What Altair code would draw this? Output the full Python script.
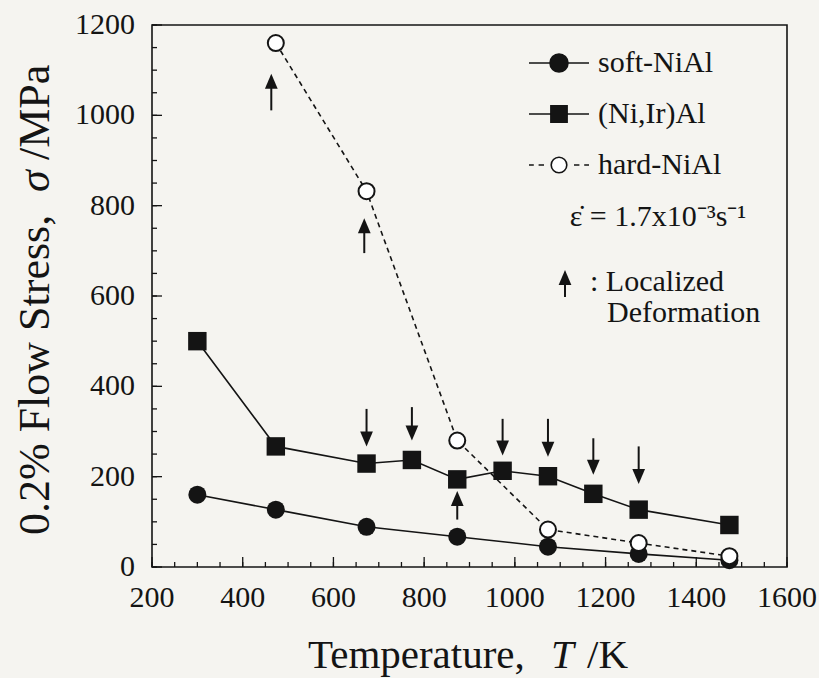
import altair as alt
import pandas as pd

# ---- data ----
series = ["soft-NiAl", "(Ni,Ir)Al", "hard-NiAl"]

temps_soft = [300, 473, 673, 873, 1073, 1273, 1473]
stress_soft = [160, 127, 89, 67, 45, 29, 15]

temps_nirAl = [300, 473, 673, 773, 873, 973, 1073, 1173, 1273, 1473]
stress_nirAl = [500, 267, 229, 237, 194, 213, 201, 162, 127, 93]

temps_hard = [473, 673, 873, 1073, 1273, 1473]
stress_hard = [1160, 832, 280, 83, 53, 24]

# localized deformation arrows (x, tail, tip)
down_x = [673, 773, 973, 1073, 1173, 1273]
down_tail = [350, 354, 328, 328, 285, 267]
down_tip = [267, 280, 247, 244, 204, 184]

up_x = [463, 668, 873]
up_tail = [1011, 695, 105]
up_tip = [1092, 772, 168]

x_major = [200, 400, 600, 800, 1000, 1200, 1400, 1600]
x_minor = list(range(200, 1601, 50))
y_major = [0, 200, 400, 600, 800, 1000, 1200]
y_minor = list(range(0, 1201, 50))

x_title = ["Temperature,", "T", "/K"]
y_title = ["0.2% Flow Stress,", "\u03c3", "/MPa"]
rate_text = ["\u03b5\u0307 = 1.7x10\u207b\u00b3s\u207b\u00b9"]
note_line1 = [": Localized"]
note_line2 = ["Deformation"]

W, H = 635, 542
FONT = "Liberation Serif"
INK = "#141414"

xs = alt.Scale(domain=[200, 1600], nice=False, zero=False)
ys = alt.Scale(domain=[0, 1200], nice=False, zero=True)


def X(field):
    return alt.X(field, scale=xs, axis=None)


def Y(field):
    return alt.Y(field, scale=ys, axis=None)


df_soft = pd.DataFrame({"T": temps_soft, "s": stress_soft})
df_nir = pd.DataFrame({"T": temps_nirAl, "s": stress_nirAl})
df_hard = pd.DataFrame({"T": temps_hard, "s": stress_hard})

line_soft = alt.Chart(df_soft).mark_line(color=INK, strokeWidth=1.6).encode(x=X("T:Q"), y=Y("s:Q"))
line_nir = alt.Chart(df_nir).mark_line(color=INK, strokeWidth=1.6).encode(x=X("T:Q"), y=Y("s:Q"))
line_hard = alt.Chart(df_hard).mark_line(color=INK, strokeWidth=1.6, strokeDash=[5, 4]).encode(
    x=X("T:Q"), y=Y("s:Q"))

pt_soft = alt.Chart(df_soft).mark_point(shape="circle", filled=True, color=INK, size=324,
                                        opacity=1).encode(x=X("T:Q"), y=Y("s:Q"))
pt_nir = alt.Chart(df_nir).mark_point(shape="square", filled=True, color=INK, size=340,
                                      opacity=1).encode(x=X("T:Q"), y=Y("s:Q"))
pt_hard = alt.Chart(df_hard).mark_point(shape="circle", fill="white", stroke=INK, strokeWidth=2,
                                        size=256, opacity=1, filled=False, fillOpacity=1).encode(
    x=X("T:Q"), y=Y("s:Q"))

# arrows
df_down = pd.DataFrame({"x": down_x, "tail": down_tail, "tip": down_tip})
df_up = pd.DataFrame({"x": up_x, "tail": up_tail, "tip": up_tip})

down_path = "M0,0L-0.85,-2L0.85,-2Z"
up_path = "M0,0L-0.85,2L0.85,2Z"
HEAD = 225

down_rule = alt.Chart(df_down).transform_calculate(end="datum.tip + 15").mark_rule(
    color=INK, strokeWidth=2).encode(x=X("x:Q"), y=Y("tail:Q"), y2="end:Q")
down_head = alt.Chart(df_down).mark_point(shape=down_path, filled=True, color=INK, size=HEAD,
                                          opacity=1).encode(x=X("x:Q"), y=Y("tip:Q"))
up_rule = alt.Chart(df_up).transform_calculate(end="datum.tip - 15").mark_rule(
    color=INK, strokeWidth=2).encode(x=X("x:Q"), y=Y("tail:Q"), y2="end:Q")
up_head = alt.Chart(df_up).mark_point(shape=up_path, filled=True, color=INK, size=HEAD,
                                      opacity=1).encode(x=X("x:Q"), y=Y("tip:Q"))


# inward ticks
def xticks(vals, ln):
    return alt.Chart(pd.DataFrame({"v": vals})).mark_rule(color=INK, strokeWidth=1.3).encode(
        x=X("v:Q"), y=alt.value(H), y2=alt.value(H - ln))


def yticks(vals, ln):
    return alt.Chart(pd.DataFrame({"v": vals})).mark_rule(color=INK, strokeWidth=1.3).encode(
        y=Y("v:Q"), x=alt.value(0), x2=alt.value(ln))


# tick labels through the scales
x_labels = alt.Chart(pd.DataFrame({"v": x_major})).mark_text(
    font=FONT, fontSize=30, color=INK, align="center", baseline="alphabetic").encode(
    x=X("v:Q"), y=alt.value(H + 40), text=alt.Text("v:Q", format="d"))
y_labels = alt.Chart(pd.DataFrame({"v": y_major})).mark_text(
    font=FONT, fontSize=30, color=INK, align="right", baseline="middle").encode(
    y=Y("v:Q"), x=alt.value(-17), text=alt.Text("v:Q", format="d"))


# axis titles (pieces so that the symbols can be italic)
def title_piece(txt, xv, yv, italic=False, angle=0, size=41):
    kw = dict(font=FONT, fontSize=size, color=INK, align="left", baseline="alphabetic")
    if italic:
        kw["fontStyle"] = "italic"
    if angle:
        kw["angle"] = angle
    return alt.Chart(pd.DataFrame({"t": [txt]})).mark_text(**kw).encode(
        text="t:N", x=alt.value(xv), y=alt.value(yv))


xt = [
    title_piece(x_title[0], 156, H + 101),
    title_piece(x_title[1], 399, H + 101, italic=True),
    title_piece(x_title[2], 435, H + 101),
]
yt = [
    title_piece(y_title[0], -103, 510, angle=270, size=44),
    title_piece(y_title[1], -103, 167, italic=True, angle=270, size=44),
    title_piece(y_title[2], -103, 135, angle=270, size=44),
]

# legend (custom symbols: line + marker)
circ = "M-0.3,0A0.3,0.3 0 1,0 0.3,0A0.3,0.3 0 1,0 -0.3,0Z"
circ_o = "M-0.26,0A0.26,0.26 0 1,0 0.26,0A0.26,0.26 0 1,0 -0.26,0Z"
sym_soft = "M-1,0H-0.3M0.3,0H1" + circ
sym_nir = "M-1,0H-0.27M0.27,0H1M-0.27,-0.27H0.27V0.27H-0.27Z"
sym_hard = "M-1,0H-0.84M-0.68,0H-0.5M0.5,0H0.68M0.84,0H1" + circ_o

leg_df = pd.DataFrame({"series": series})
legend = alt.Legend(title=None, orient="none", legendX=376, legendY=7, symbolSize=3600,
                    symbolStrokeWidth=1.6, symbolStrokeColor=INK, labelFont=FONT,
                    labelFontSize=30, labelColor=INK, rowPadding=5, labelOffset=8,
                    padding=0, symbolOpacity=1)
legend_layer = alt.Chart(leg_df).mark_point(clip=True, stroke=INK, strokeWidth=1.6, opacity=1).encode(
    x=alt.value(-200), y=alt.value(-200),
    shape=alt.Shape("series:N", scale=alt.Scale(domain=series, range=[sym_soft, sym_nir, sym_hard]),
                    legend=legend),
    fill=alt.Fill("series:N", scale=alt.Scale(domain=series, range=[INK, INK, "white"]),
                  legend=legend),
    stroke=alt.Stroke("series:N", scale=alt.Scale(domain=series, range=[INK, INK, INK]),
                      legend=legend),
)

rate = alt.Chart(pd.DataFrame({"t": rate_text})).mark_text(
    font=FONT, fontSize=30, color=INK, align="center", baseline="middle").encode(
    text="t:N", x=alt.value(506), y=alt.value(192))

note1 = alt.Chart(pd.DataFrame({"t": note_line1})).mark_text(
    font=FONT, fontSize=30, color=INK, align="left", baseline="middle").encode(
    text="t:N", x=alt.value(438), y=alt.value(257))
note2 = alt.Chart(pd.DataFrame({"t": note_line2})).mark_text(
    font=FONT, fontSize=30, color=INK, align="left", baseline="middle").encode(
    text="t:N", x=alt.value(455), y=alt.value(288))

key_rule = alt.Chart(pd.DataFrame({"a": [0]})).mark_rule(color=INK, strokeWidth=2).encode(
    x=alt.value(413), y=alt.value(272), y2=alt.value(252))
key_head = alt.Chart(pd.DataFrame({"a": [0]})).mark_point(shape=up_path, filled=True, color=INK,
                                                          size=HEAD, opacity=1).encode(
    x=alt.value(413), y=alt.value(245))

chart = alt.layer(
    line_soft, line_nir, line_hard,
    xticks(x_minor, 5), xticks(x_major, 10), yticks(y_minor, 5), yticks(y_major, 10),
    x_labels, y_labels, *xt, *yt,
    down_rule, down_head, up_rule, up_head,
    pt_soft, pt_nir, pt_hard,
    legend_layer, rate, note1, note2, key_rule, key_head,
).properties(
    width=W, height=H,
    autosize=alt.AutoSizeParams(type="none"),
    padding={"left": 152, "top": 25, "right": 32, "bottom": 111},
    background="#f5f4f0",
).configure_view(
    stroke=INK, strokeWidth=1.6
)

chart.save("out.html", embed_options={"renderer": "svg", "actions": False})
